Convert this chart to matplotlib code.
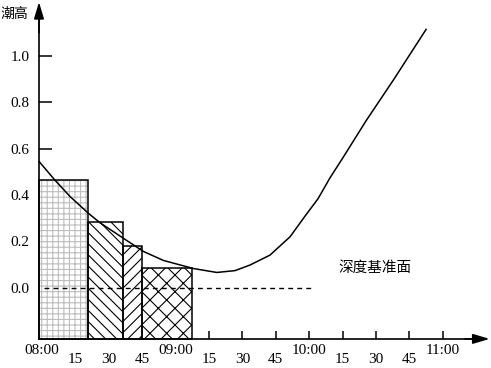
import matplotlib
matplotlib.use("Agg")
import matplotlib.pyplot as plt
from matplotlib.ticker import FixedLocator, FixedFormatter

# Time axis is in minutes after 08:00, tide height in metres
bar_left = [-1.3, 20.8, 36.4, 45.0]
bar_width = [22.1, 15.6, 8.6, 22.5]
bar_height = [0.464, 0.282, 0.179, 0.083]
bar_hatch = ["+++", "\\\\\\", "///", "xx"]

curve_t = [-1.2, 5.8, 12.6, 20.8, 26.0, 36.5, 45.5, 54.5, 68.0, 78.5, 86.7,
           93.4, 102.4, 111.4, 118.1, 124.0, 129.3, 135.3, 145.8, 157.8, 172.5]
curve_h = [0.543, 0.464, 0.393, 0.321, 0.280, 0.213, 0.156, 0.117, 0.082, 0.065, 0.073,
           0.097, 0.140, 0.219, 0.308, 0.384, 0.473, 0.563, 0.724, 0.896, 1.115]

hour_ticks = [0, 60, 120, 180]
hour_labels = ["08:00", "09:00", "10:00", "11:00"]
minute_ticks = [15, 30, 45, 75, 90, 105, 135, 150, 165]
minute_labels = ["15", "30", "45"] * 3
height_ticks = [0.2, 0.4, 0.6, 0.8, 1.0]
height_labels = ["0.2", "0.4", "0.6", "0.8", "1.0"]

datum_start, datum_end = 1.0, 121.0
axis_x0, axis_y0 = -1.35, -0.222
cjk = ["Noto Sans CJK SC", "DejaVu Sans"]

plt.rcParams["font.family"] = "Liberation Serif"
plt.rcParams["hatch.linewidth"] = 0.8

fig = plt.figure(figsize=(4.91, 3.68), dpi=100)
ax = fig.add_axes([0, 0, 1, 1])
ax.set_xlim(-18.86, 201.65)
ax.set_ylim(-0.3477, 1.2419)
ax.patch.set_alpha(0)

# bars: first one has a light grey grid fill with a black outline
for i in range(len(bar_left)):
    hc = "#bdbdbd" if i == 0 else "black"
    ax.bar(bar_left[i], bar_height[i] - axis_y0, width=bar_width[i], bottom=axis_y0,
           align="edge", facecolor="white", edgecolor=hc, hatch=bar_hatch[i],
           linewidth=0, zorder=2)
    ax.bar(bar_left[i], bar_height[i] - axis_y0, width=bar_width[i], bottom=axis_y0,
           align="edge", facecolor="none", edgecolor="black", linewidth=1.1, zorder=3)

# datum line and tide curve
ax.plot([datum_start, datum_end], [0, 0], color="black", lw=1.0,
        dashes=(3.5, 3), zorder=4)
ax.plot(curve_t, curve_h, color="black", lw=1.1, zorder=5)

# axes as arrows
for s in ["top", "right"]:
    ax.spines[s].set_visible(False)
ax.spines["left"].set_position(("data", axis_x0))
ax.spines["bottom"].set_position(("data", axis_y0))
ax.spines["left"].set_bounds(axis_y0, 1.2)
ax.spines["bottom"].set_bounds(axis_x0, 195)
for s in ["left", "bottom"]:
    ax.spines[s].set_linewidth(1.2)
    ax.spines[s].set_zorder(6)
arrow = dict(arrowstyle="-|>,head_length=1.0,head_width=0.3", color="black",
             lw=1.2, shrinkA=0, shrinkB=0)
ax.annotate("", xy=(axis_x0, 1.233), xytext=(axis_x0, 1.1), arrowprops=arrow)
ax.annotate("", xy=(201.0, axis_y0), xytext=(190, axis_y0), arrowprops=arrow)

# x ticks: hours higher, minutes lower
ax.xaxis.set_major_locator(FixedLocator(hour_ticks))
ax.xaxis.set_major_formatter(FixedFormatter(hour_labels))
ax.xaxis.set_minor_locator(FixedLocator(minute_ticks))
ax.xaxis.set_minor_formatter(FixedFormatter(minute_labels))
ax.tick_params(axis="x", which="both", direction="in", length=6, width=1.1,
               labelsize=11)
ax.tick_params(axis="x", which="major", pad=4)
ax.tick_params(axis="x", which="minor", pad=10)

# y ticks: 0.0 gets a label but no mark
ax.yaxis.set_major_locator(FixedLocator(height_ticks))
ax.yaxis.set_major_formatter(FixedFormatter(height_labels))
ax.yaxis.set_minor_locator(FixedLocator([0.0]))
ax.yaxis.set_minor_formatter(FixedFormatter(["0.0"]))
ax.tick_params(axis="y", which="major", direction="in", length=9.5, width=1.1,
               pad=7, labelsize=11)
ax.tick_params(axis="y", which="minor", direction="in", length=0, pad=7,
               labelsize=11)

fig.text(0.0, 1 - 14 / 368, "潮高", family=cjk, fontsize=10, ha="left", va="center")
ax.text(149.6, 0.083, "深度基准面", family=cjk, fontsize=10.5, ha="center", va="center")

fig.savefig("out.png", dpi=100)
